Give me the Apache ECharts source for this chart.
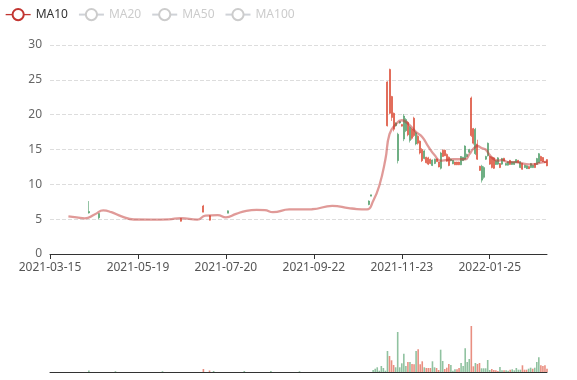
<!DOCTYPE html>
<html><head><meta charset="utf-8">
<script src="https://cdn.jsdelivr.net/npm/echarts@6/dist/echarts.min.js"></script>
<style>html,body{margin:0;padding:0;background:#fff}#c{width:577px;height:380px}</style>
</head><body><div id="c"></div>
<script>
// trading-day categories
const dates = [
'2021-03-15','2021-03-16','2021-03-17','2021-03-18','2021-03-19','2021-03-22','2021-03-23','2021-03-24','2021-03-25','2021-03-26','2021-03-29','2021-03-30','2021-03-31',
'2021-04-01','2021-04-02','2021-04-06','2021-04-07','2021-04-08','2021-04-09','2021-04-12','2021-04-13','2021-04-14','2021-04-15','2021-04-16','2021-04-19','2021-04-20','2021-04-21','2021-04-22','2021-04-23','2021-04-26','2021-04-27','2021-04-28','2021-04-29','2021-04-30',
'2021-05-06','2021-05-07','2021-05-10','2021-05-11','2021-05-12','2021-05-13','2021-05-14','2021-05-17','2021-05-18','2021-05-19','2021-05-20','2021-05-21','2021-05-24','2021-05-25','2021-05-26','2021-05-27','2021-05-28','2021-05-31',
'2021-06-01','2021-06-02','2021-06-03','2021-06-04','2021-06-07','2021-06-08','2021-06-09','2021-06-10','2021-06-11','2021-06-15','2021-06-16','2021-06-17','2021-06-18','2021-06-21','2021-06-22','2021-06-23','2021-06-24','2021-06-25','2021-06-28','2021-06-29','2021-06-30',
'2021-07-01','2021-07-02','2021-07-05','2021-07-06','2021-07-07','2021-07-08','2021-07-09','2021-07-12','2021-07-13','2021-07-14','2021-07-15','2021-07-16','2021-07-19','2021-07-20','2021-07-21','2021-07-22','2021-07-23','2021-07-26','2021-07-27','2021-07-28','2021-07-29','2021-07-30',
'2021-08-02','2021-08-03','2021-08-04','2021-08-05','2021-08-06','2021-08-09','2021-08-10','2021-08-11','2021-08-12','2021-08-13','2021-08-16','2021-08-17','2021-08-18','2021-08-19','2021-08-20','2021-08-23','2021-08-24','2021-08-25','2021-08-26','2021-08-27','2021-08-30','2021-08-31',
'2021-09-01','2021-09-02','2021-09-03','2021-09-06','2021-09-07','2021-09-08','2021-09-09','2021-09-10','2021-09-13','2021-09-14','2021-09-15','2021-09-16','2021-09-22','2021-09-23','2021-09-24','2021-09-27','2021-09-28','2021-09-29','2021-09-30',
'2021-10-04','2021-10-05','2021-10-06','2021-10-07','2021-10-08','2021-10-11','2021-10-12','2021-10-13','2021-10-14','2021-10-15','2021-10-18','2021-10-19','2021-10-20','2021-10-21','2021-10-22','2021-10-25','2021-10-26','2021-10-27','2021-10-28','2021-10-29',
'2021-11-01','2021-11-02','2021-11-03','2021-11-04','2021-11-05','2021-11-08','2021-11-09','2021-11-10','2021-11-11','2021-11-12','2021-11-15','2021-11-16','2021-11-17','2021-11-18','2021-11-19','2021-11-22','2021-11-23','2021-11-24','2021-11-25','2021-11-26','2021-11-29','2021-11-30',
'2021-12-01','2021-12-02','2021-12-03','2021-12-06','2021-12-07','2021-12-08','2021-12-09','2021-12-10','2021-12-13','2021-12-14','2021-12-15','2021-12-16','2021-12-17','2021-12-20','2021-12-21','2021-12-22','2021-12-23','2021-12-24','2021-12-27','2021-12-28','2021-12-29','2021-12-30',
'2022-01-04','2022-01-05','2022-01-06','2022-01-07','2022-01-10','2022-01-11','2022-01-12','2022-01-13','2022-01-14','2022-01-17','2022-01-18','2022-01-19','2022-01-20','2022-01-21','2022-01-24','2022-01-25','2022-01-26','2022-01-27','2022-01-28',
'2022-02-07','2022-02-08','2022-02-09','2022-02-10','2022-02-11','2022-02-14','2022-02-15','2022-02-16','2022-02-17','2022-02-18','2022-02-21','2022-02-22','2022-02-23','2022-02-24','2022-02-25','2022-02-28',
'2022-03-01','2022-03-02','2022-03-03','2022-03-04','2022-03-07','2022-03-08','2022-03-09','2022-03-10','2022-03-11'
];

// [date, open, close, lowest, highest]
const ohlc = [
['2021-04-12',6.1,5.9,5.8,7.6],['2021-04-19',5.8,5.2,5.0,5.8],['2021-06-18',4.7,5.1,4.65,5.15],
['2021-07-05',6.0,6.9,6.0,7.05],['2021-07-08',4.85,5.5,4.8,5.55],['2021-07-21',6.2,5.85,5.85,6.25],
['2021-11-01',7.6,7.1,7.0,7.7],['2021-11-02',8.5,8.3,8.3,8.5],
['2021-11-12',18.4,24.7,18.3,24.8],['2021-11-15',20.2,26.5,20.1,26.6],['2021-11-16',19.6,22.6,19.1,22.7],
['2021-11-17',17.9,20.2,17.6,20.3],['2021-11-18',18.8,18.4,18.3,18.9],['2021-11-19',17.2,13.4,13.0,17.4],
['2021-11-22',19.0,18.8,18.7,19.1],['2021-11-23',18.35,18.6,18.3,18.65],['2021-11-24',19.8,16.5,16.2,20.1],
['2021-11-25',19.3,17.7,17.5,19.5],['2021-11-26',17.1,18.9,16.9,19.1],['2021-11-29',18.2,16.3,16.0,18.4],
['2021-11-30',16.6,17.9,16.4,18.1],['2021-12-01',17.0,19.5,16.8,19.7],['2021-12-02',17.4,15.8,15.6,17.6],
['2021-12-03',15.9,16.9,15.7,17.05],['2021-12-06',14.5,16.2,14.3,16.3],['2021-12-07',13.4,15.0,13.2,15.2],
['2021-12-08',14.8,13.7,13.6,14.9],['2021-12-09',13.1,13.9,13.0,13.95],['2021-12-10',12.9,13.8,12.76,13.95],
['2021-12-13',13.0,13.6,12.9,13.7],['2021-12-14',13.5,12.7,12.62,13.57],['2021-12-15',13.6,13.0,12.9,13.7],
['2021-12-16',13.25,13.65,13.24,13.7],['2021-12-17',12.5,13.2,12.43,13.24],['2021-12-20',14.5,12.3,12.14,14.67],
['2021-12-21',14.0,14.9,13.95,15.0],['2021-12-22',14.1,14.9,14.05,15.0],['2021-12-23',13.3,14.3,13.24,14.43],
['2021-12-24',12.7,13.9,12.6,14.0],['2021-12-27',13.6,13.4,13.3,13.7],['2021-12-28',13.45,12.95,12.9,13.48],
['2021-12-29',12.8,13.2,12.76,13.24],['2021-12-30',12.8,13.2,12.76,13.24],['2022-01-04',12.8,13.2,12.76,13.24],
['2022-01-05',14.0,12.8,12.76,14.05],['2022-01-06',13.9,13.4,13.38,13.95],['2022-01-07',15.5,13.6,13.5,15.6],
['2022-01-10',14.3,14.0,13.9,14.4],['2022-01-11',15.0,14.6,14.5,15.1],['2022-01-12',17.0,22.4,16.8,22.6],
['2022-01-13',15.9,18.0,15.7,18.1],['2022-01-14',17.9,14.4,14.2,18.1],['2022-01-17',13.6,15.8,13.5,16.4],
['2022-01-18',12.0,12.6,11.95,12.65],['2022-01-19',12.6,10.6,10.25,12.8],['2022-01-20',12.4,11.0,10.8,12.6],
['2022-01-21',14.0,13.6,13.5,14.1],['2022-01-24',15.9,14.1,14.0,16.0],['2022-01-25',12.9,14.0,12.8,14.1],
['2022-01-26',12.4,13.9,12.3,14.0],['2022-01-27',12.3,13.8,12.2,13.9],['2022-01-28',13.4,12.85,12.8,13.5],
['2022-02-07',13.8,12.9,12.8,13.9],['2022-02-08',12.4,13.0,12.34,13.06],['2022-02-09',13.7,12.9,12.8,13.8],
['2022-02-10',13.35,13.75,13.3,13.8],['2022-02-11',13.0,12.75,12.7,13.06],['2022-02-14',13.25,12.75,12.7,13.3],
['2022-02-15',12.85,13.45,12.8,13.5],['2022-02-16',13.25,12.85,12.8,13.3],['2022-02-17',13.25,12.85,12.8,13.3],
['2022-02-18',13.55,13.1,13.06,13.6],['2022-02-21',13.1,13.45,13.06,13.5],['2022-02-22',13.25,12.4,12.34,13.3],
['2022-02-23',12.15,13.0,12.1,13.06],['2022-02-24',12.75,12.4,12.34,12.8],['2022-02-25',12.65,12.25,12.2,12.7],
['2022-02-28',12.25,12.55,12.2,12.6],['2022-03-01',13.0,12.4,12.34,13.06],['2022-03-02',12.75,12.4,12.34,12.8],
['2022-03-03',12.4,13.0,12.34,13.06],['2022-03-04',13.7,12.85,12.8,13.8],['2022-03-07',14.4,13.1,13.06,14.5],
['2022-03-08',13.35,14.0,13.3,14.1],['2022-03-09',13.25,13.85,13.2,13.9],['2022-03-10',13.1,13.25,13.06,13.3],
['2022-03-11',12.65,13.55,12.6,13.6]
];

// [date, volume, direction: 1 up / -1 down]
const volumes = [
['2021-04-12',1.5,-1],['2021-04-29',0.8,-1],['2021-06-04',0.8,-1],['2021-07-05',3,1],['2021-07-08',1.5,1],
['2021-07-12',1,-1],['2021-08-02',1,-1],['2021-08-19',1,-1],['2021-09-08',0.8,-1],
['2021-11-03',2,-1],['2021-11-04',3.3,-1],['2021-11-05',4.7,-1],['2021-11-08',1.3,-1],['2021-11-09',6,-1],
['2021-11-10',4,-1],['2021-11-11',1.3,-1],['2021-11-12',21,-1],['2021-11-15',16,1],['2021-11-16',11.7,1],
['2021-11-17',7,1],['2021-11-18',4.7,-1],['2021-11-19',40,-1],['2021-11-22',4.7,-1],['2021-11-23',8.7,-1],
['2021-11-24',18.3,-1],['2021-11-25',6,-1],['2021-11-26',10,1],['2021-11-29',10,-1],['2021-11-30',8,1],
['2021-12-01',7.7,1],['2021-12-02',21,-1],['2021-12-03',22.7,1],['2021-12-06',7.7,1],['2021-12-07',10.7,1],
['2021-12-08',4.7,-1],['2021-12-09',4,1],['2021-12-10',4,1],['2021-12-13',4,1],['2021-12-14',10.7,-1],
['2021-12-15',4.7,-1],['2021-12-16',4,1],['2021-12-17',2,1],['2021-12-20',22.3,-1],['2021-12-21',11,-1],
['2021-12-22',3,1],['2021-12-23',4.3,1],['2021-12-24',8,1],['2021-12-27',7,-1],['2021-12-28',1.3,-1],
['2021-12-29',2.7,-1],['2021-12-30',2.7,1],['2022-01-04',4,1],['2022-01-05',9,-1],['2022-01-06',6,-1],
['2022-01-07',23.7,-1],['2022-01-10',10,-1],['2022-01-11',13,-1],['2022-01-12',46,1],['2022-01-13',5.7,1],
['2022-01-14',9,-1],['2022-01-17',8,1],['2022-01-18',9,1],['2022-01-19',3.7,-1],['2022-01-20',3.7,-1],
['2022-01-21',3.7,-1],['2022-01-24',12,-1],['2022-01-25',2,-1],['2022-01-26',3,1],['2022-01-27',2,1],
['2022-01-28',1.7,1],['2022-02-07',1,1],['2022-02-08',5,-1],['2022-02-09',1.7,-1],['2022-02-10',1.7,1],
['2022-02-11',1.7,-1],['2022-02-14',1.3,-1],['2022-02-15',2.3,1],['2022-02-16',2.7,-1],['2022-02-17',1.7,-1],
['2022-02-18',4,-1],['2022-02-21',2.3,-1],['2022-02-22',2.3,-1],['2022-02-23',6.7,1],['2022-02-24',2.3,1],
['2022-02-25',2.3,1],['2022-02-28',3.3,-1],['2022-03-01',4.3,-1],['2022-03-02',3.3,1],['2022-03-03',4.3,-1],
['2022-03-04',10,-1],['2022-03-07',14.7,-1],['2022-03-08',6.7,1],['2022-03-09',6,1],['2022-03-10',6.7,1],
['2022-03-11',3.3,1]
];

// MA10 line readings [date, value]
const ma10 = [
['2021-03-26',5.39],['2021-04-01',5.25],['2021-04-08',5.1],['2021-04-15',5.7],['2021-04-21',6.25],
['2021-04-27',6.0],['2021-05-07',5.4],['2021-05-17',4.95],['2021-05-28',4.93],['2021-06-09',4.97],
['2021-06-18',5.15],['2021-06-30',4.93],['2021-07-06',5.5],['2021-07-14',5.57],['2021-07-20',5.25],
['2021-07-27',5.75],['2021-08-03',6.2],['2021-08-10',6.33],['2021-08-16',6.3],['2021-08-20',6.0],
['2021-09-01',6.4],['2021-09-16',6.42],['2021-10-06',6.92],['2021-10-18',6.6],['2021-10-22',6.45],
['2021-10-29',6.4],['2021-11-03',7.6],['2021-11-08',9.8],['2021-11-11',13.6],['2021-11-15',17.2],
['2021-11-18',18.6],['2021-11-23',19.2],['2021-11-26',18.7],['2021-12-02',17.5],['2021-12-07',16.8],
['2021-12-10',15.4],['2021-12-15',14.2],['2021-12-20',13.4],['2021-12-23',13.5],['2021-12-28',13.6],
['2022-01-07',13.6],['2022-01-11',14.3],['2022-01-13',15.1],['2022-01-17',15.5],['2022-01-19',15.2],
['2022-01-21',15.0],['2022-01-25',14.2],['2022-01-27',13.6],['2022-02-07',13.4],['2022-02-09',13.5],
['2022-02-14',13.2],['2022-02-18',13.2],['2022-02-23',13.0],['2022-02-28',12.86],['2022-03-03',12.9],
['2022-03-08',13.1],['2022-03-11',13.25]
];

const legendNames = ['MA10','MA20','MA50','MA100'];
const priceTicks = {min: 0, max: 30, step: 5};

const UP = '#dc4a34', DOWN = '#4c9c66';
const pos = {}; dates.forEach((d, i) => pos[d] = i);
const kData = dates.map(() => ['-','-','-','-']);
ohlc.forEach(r => { kData[pos[r[0]]] = [r[1], r[2], r[3], r[4]]; });
const volData = dates.map(() => '-');
volumes.forEach(r => { volData[pos[r[0]]] = {value: r[1], itemStyle: {color: r[2] > 0 ? UP : DOWN}}; });
const maData = dates.map(() => '-');
ma10.forEach(r => { maData[pos[r[0]]] = r[1]; });

const chart = echarts.init(document.getElementById('c'));
chart.setOption({
  animation: false,
  textStyle: {fontFamily: 'Noto Sans, sans-serif'},
  legend: {
    data: legendNames, left: 0, top: 3, itemGap: 10,
    selected: {MA20: false, MA50: false, MA100: false},
    textStyle: {color: '#333', fontSize: 12}, inactiveColor: '#ccc',
    itemStyle: {borderWidth: 1.3},
    lineStyle: {width: 1.3, opacity: 1}
  },
  grid: [
    {left: 50, right: 30, top: 45, height: 209},
    {left: 50, right: 30, top: 312, height: 60}
  ],
  xAxis: [
    {type: 'category', data: dates, boundaryGap: false, gridIndex: 0,
     axisLine: {onZero: false, lineStyle: {color: '#333'}},
     axisTick: {show: true, interval: 42, length: 5, lineStyle: {color: '#333'}},
     axisLabel: {interval: 42, color: '#555', fontSize: 12},
     splitLine: {show: false}, axisPointer: {show: false}},
    {type: 'category', data: dates, boundaryGap: false, gridIndex: 1,
     axisLine: {onZero: false, lineStyle: {color: '#333'}},
     axisTick: {show: false}, axisLabel: {show: false}, splitLine: {show: false}}
  ],
  yAxis: [
    {type: 'value', gridIndex: 0, min: priceTicks.min, max: priceTicks.max, interval: priceTicks.step,
     axisLine: {show: false}, axisTick: {show: false},
     axisLabel: {color: '#666', fontSize: 12},
     splitLine: {lineStyle: {type: 'dashed', color: '#ddd'}}},
    {type: 'value', gridIndex: 1, min: 0, max: 60,
     axisLine: {show: false}, axisTick: {show: false}, axisLabel: {show: false}, splitLine: {show: false}}
  ],
  series: [
    {name: 'K', type: 'candlestick', data: kData, xAxisIndex: 0, yAxisIndex: 0,
     barWidth: 1.5, large: false, progressive: 0, clip: false,
     emphasis: {disabled: true},
     itemStyle: {color: UP, color0: DOWN, borderColor: UP, borderColor0: DOWN, borderColorDoji: UP, borderWidth: 0.6}},
    {name: 'MA10', type: 'line', data: maData, smooth: true, showSymbol: false, connectNulls: true,
     color: '#c23531', lineStyle: {width: 2.3, opacity: 0.5}, z: 3},
    {name: 'MA20', type: 'line', data: [], smooth: true, showSymbol: false, color: '#2f4554'},
    {name: 'MA50', type: 'line', data: [], smooth: true, showSymbol: false, color: '#61a0a8'},
    {name: 'MA100', type: 'line', data: [], smooth: true, showSymbol: false, color: '#d48265'},
    {name: 'Volume', type: 'bar', data: volData, xAxisIndex: 1, yAxisIndex: 1,
     barWidth: 1.6, itemStyle: {opacity: 0.62}}
  ]
});
</script></body></html>
